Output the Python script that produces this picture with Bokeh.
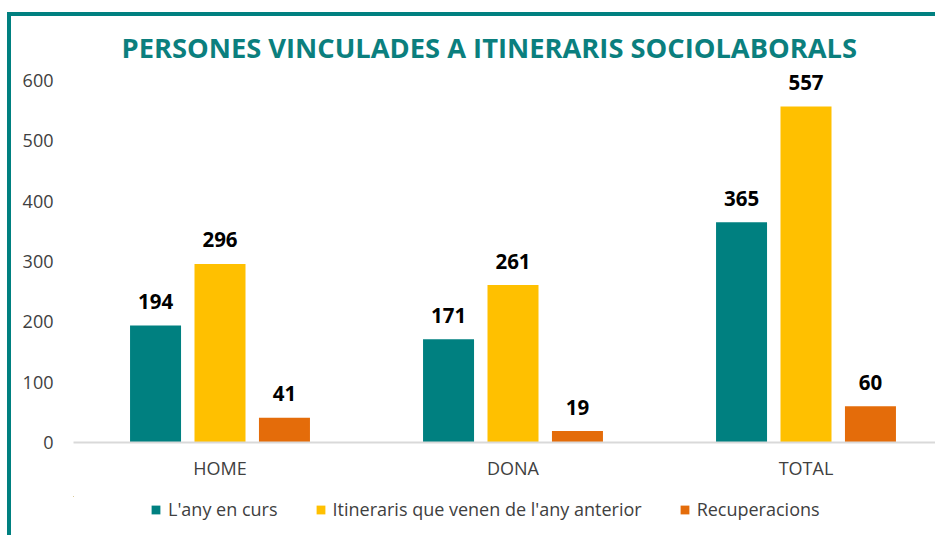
from bokeh.plotting import figure
from bokeh.models import ColumnDataSource, Range1d, FixedTicker, Legend, LegendItem, Title
from bokeh.layouts import column
from bokeh.core.properties import value
from bokeh.embed import file_html
from bokeh.resources import INLINE

# ---- data ----
categories = ["HOME", "DONA", "TOTAL"]
series_names = ["L'any en curs", "Itineraris que venen de l'any anterior", "Recuperacions"]
any_en_curs = [194, 171, 365]
itineraris_anteriors = [296, 261, 557]
recuperacions = [41, 19, 60]
y_ticks = [0, 100, 200, 300, 400, 500, 600]
title_text = "PERSONES VINCULADES A ITINERARIS SOCIOLABORALS"

colors = ["#008080", "#FFC000", "#E46C0A"]
series = [any_en_curs, itineraris_anteriors, recuperacions]

FONT = "Open Sans"
TEAL = "#0B7F7E"

W, H = 924, 480
MB_L, MB_T, MB_B = 62, 54, 54
p = figure(width=W, height=H, output_backend="svg", toolbar_location=None,
           x_range=Range1d(0, (W - MB_L) / 293), y_range=Range1d(0, 616.6),
           min_border_left=MB_L, min_border_right=0, min_border_top=MB_T, min_border_bottom=MB_B)
p.outline_line_color = None
p.background_fill_color = "white"
p.border_fill_color = "white"
p.xgrid.grid_line_color = None
p.ygrid.grid_line_color = None

p.title = Title(text=title_text, align="left", text_font=FONT, text_font_size="27.3px",
                text_font_style="bold", text_color=TEAL, offset=48)

offsets = [-0.22, 0.0, 0.22]
bar_w = 51 / 293
sources = []
for vals, off, col in zip(series, offsets, colors):
    src = ColumnDataSource(dict(
        x=[i + 0.5 + off for i in range(len(categories))],
        top=vals,
        label=[str(v) for v in vals],
    ))
    sources.append(src)
    p.vbar(x="x", top="top", width=bar_w, bottom=0, source=src,
           fill_color=col, line_color=None)
    p.text(x="x", y="top", text="label", source=src, text_font=value(FONT),
           text_font_size="20.5px", text_font_style="bold", text_color="black",
           text_align="center", text_baseline="alphabetic", y_offset=-24)

# axes
p.yaxis.ticker = FixedTicker(ticks=y_ticks)
p.yaxis.axis_line_color = None
p.yaxis.major_tick_line_color = None
p.yaxis.minor_tick_line_color = None
p.yaxis.major_label_text_font = FONT
p.yaxis.major_label_text_font_size = "18px"
p.yaxis.major_label_text_color = "#404040"
p.yaxis.major_label_standoff = 14

p.xaxis.ticker = FixedTicker(ticks=[i + 0.5 for i in range(len(categories))])
p.xaxis.major_label_overrides = {i + 0.5: c for i, c in enumerate(categories)}
p.xaxis.axis_line_color = "#D9D9D9"
p.xaxis.axis_line_width = 2
p.xaxis.major_tick_line_color = None
p.xaxis.minor_tick_line_color = None
p.xaxis.major_label_text_font = FONT
p.xaxis.major_label_text_font_size = "18px"
p.xaxis.major_label_text_color = "#404040"
p.xaxis.major_label_standoff = 7

# ---- legend strip (its frame is aligned with the main frame) ----
lf = figure(width=W, height=39, output_backend="svg", toolbar_location=None,
            x_range=Range1d(1000, 1001), y_range=Range1d(-2000, -1999),
            min_border_left=0, min_border_right=0, min_border_top=0, min_border_bottom=0)
lf.axis.visible = False
lf.grid.visible = False
lf.outline_line_color = None
lf.border_fill_color = "white"
items = []
for src, col, name in zip(sources, colors, series_names):
    # same bars, far outside this strip's visible range: only their legend swatches show
    r = lf.vbar(x="x", top="top", width=bar_w, bottom=0, source=src,
                fill_color=col, line_color=None)
    items.append(LegendItem(label=name, renderers=[r], index=0))
legend = Legend(items=items, orientation="horizontal", location=(77, 14),
                glyph_width=11, glyph_height=11, label_standoff=7, spacing=37,
                padding=0, margin=0, border_line_color=None, background_fill_alpha=0,
                label_text_font=FONT, label_text_font_size="18px",
                label_text_color="#404040")
lf.add_layout(legend, "center")

layout = column(p, lf, spacing=0,
                styles={"border-left": "4px solid #008080", "border-top": "4px solid #008080",
                        "margin-left": "7px", "margin-top": "12px"})

open("out.html", "w").write(file_html(layout, INLINE))
